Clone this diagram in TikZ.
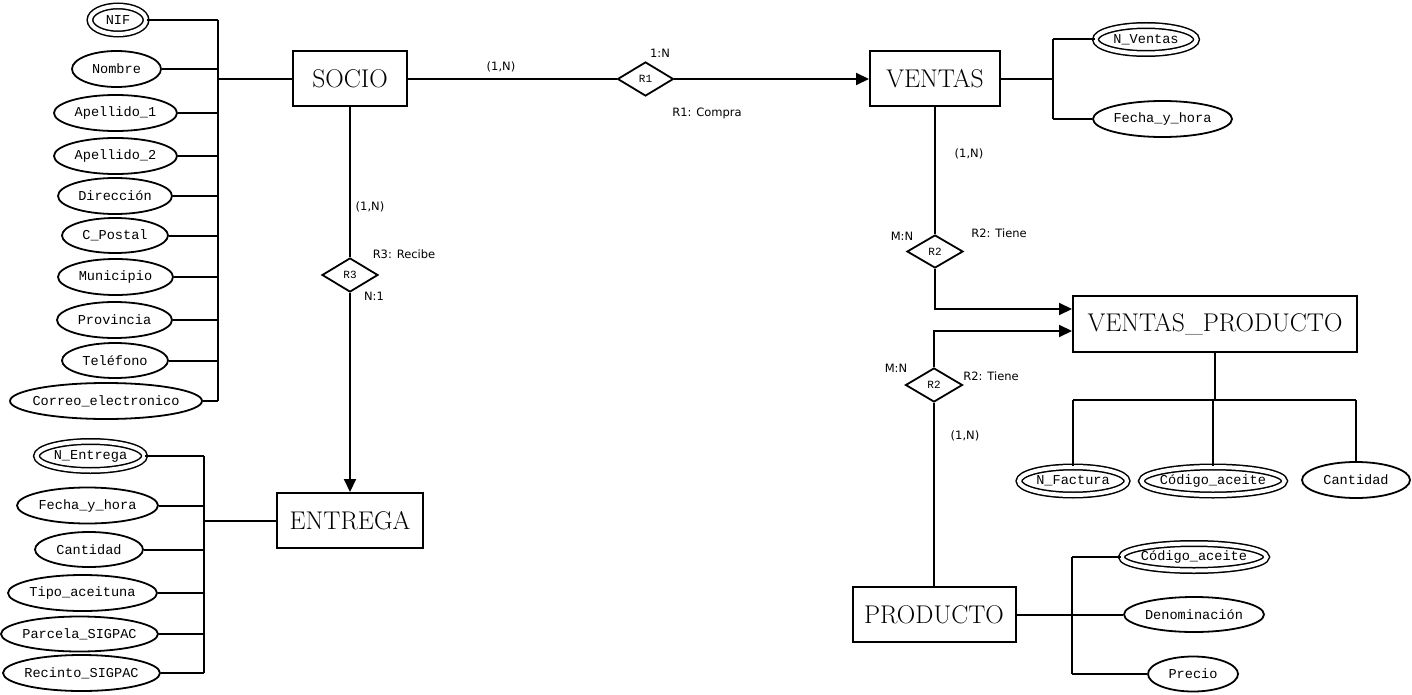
\documentclass[tikz,border=0pt]{standalone}
\usepackage{fontspec}
\newfontfamily\mono{Liberation Mono}
\newfontfamily\lab{DejaVu Sans}
\usetikzlibrary{shapes.geometric,arrows.meta}
\tikzset{
  ent/.style={draw, line width=2pt, inner sep=0pt, font=\fontsize{25.6}{26}\selectfont},
  attr/.style={draw, ellipse, line width=1.8pt, inner ysep=0pt, inner xsep=-14pt, font=\mono\fontsize{13.6}{14}\selectfont},
  keyattr/.style={attr, double, double distance=4pt, line width=1.5pt},
  rel/.style={draw, diamond, line width=1.8pt, inner sep=0pt, font=\mono\fontsize{11}{11}\selectfont},
  lbl/.style={font=\lab\fontsize{11.5}{12}\selectfont, inner sep=0pt},
  ln/.style={line width=2pt},
  arr/.style={ln, -{Triangle[length=13pt,width=12pt]}}
}
\begin{document}
\begin{tikzpicture}[x=1pt,y=-1pt]
\useasboundingbox (0,0) rectangle (1412,695);
% entities
\node[ent, minimum width=114, minimum height=55] (socio) at (350,79) {SOCIO};
\node[ent, minimum width=130, minimum height=55] (ventas) at (935,79) {VENTAS};
\node[ent, minimum width=284, minimum height=56] (vp) at (1215,324) {VENTAS\_PRODUCTO};
\node[ent, minimum width=146, minimum height=55] (entrega) at (350,520.5) {ENTREGA};
\node[ent, minimum width=163, minimum height=55] (producto) at (934,614.5) {PRODUCTO};
% relationships
\node[rel, minimum width=56, minimum height=34] (r1) at (645.5,79) {R1};
\node[rel, minimum width=56, minimum height=34] (r3) at (350,275) {R3};
\node[rel, minimum width=56, minimum height=33] (r2a) at (935,251.5) {R2};
\node[rel, minimum width=57, minimum height=34] (r2b) at (934,385) {R2};
% SOCIO attributes
\node[keyattr, minimum width=56, minimum height=28] (nif) at (118,20) {NIF};
\node[attr, minimum width=89, minimum height=36] (nom) at (116.5,69) {Nombre};
\node[attr, minimum width=123, minimum height=36] (ap1) at (115.5,113) {Apellido\_1};
\node[attr, minimum width=123, minimum height=36] (ap2) at (115.5,156) {Apellido\_2};
\node[attr, minimum width=114, minimum height=36] (dir) at (115,196) {Dirección};
\node[attr, minimum width=106, minimum height=35] (cp) at (115,235.5) {C\_Postal};
\node[attr, minimum width=115, minimum height=36] (mun) at (115.5,277) {Municipio};
\node[attr, minimum width=115, minimum height=36] (prov) at (114.5,320) {Provincia};
\node[attr, minimum width=106, minimum height=35] (tel) at (115,360.5) {Teléfono};
\node[attr, minimum width=192, minimum height=36] (corr) at (106,401) {Correo\_electronico};
\coordinate (sbus) at (218,79);
\foreach \n in {nif,nom,ap1,ap2,dir,cp,mun,prov,tel,corr}
  \draw[ln] (\n.east) -- (\n.east -| sbus);
\draw[ln] (nif.east -| sbus) -- (corr.east -| sbus);
\draw[ln] (sbus) -- (socio.west);
% ENTREGA attributes
\node[keyattr, minimum width=108, minimum height=29] (nent) at (90.5,456) {N\_Entrega};
\node[attr, minimum width=141, minimum height=36] (efh) at (87.5,505.5) {Fecha\_y\_hora};
\node[attr, minimum width=108, minimum height=35] (ecant) at (89,549.5) {Cantidad};
\node[attr, minimum width=149, minimum height=36] (tipo) at (82.5,593) {Tipo\_aceituna};
\node[attr, minimum width=157, minimum height=35] (parc) at (79.5,634) {Parcela\_SIGPAC};
\node[attr, minimum width=157, minimum height=36] (rec) at (81.5,673) {Recinto\_SIGPAC};
\coordinate (ebus) at (204,520.5);
\foreach \n in {nent,efh,ecant,tipo,parc,rec}
  \draw[ln] (\n.east) -- (\n.east -| ebus);
\draw[ln] (nent.east -| ebus) -- (rec.east -| ebus);
\draw[ln] (ebus) -- (entrega.west);
% VENTAS attributes
\node[keyattr, minimum width=101, minimum height=28] (nv) at (1146,39.5) {N\_Ventas};
\node[attr, minimum width=139, minimum height=36] (vfh) at (1162.5,119) {Fecha\_y\_hora};
\coordinate (vbus) at (1053,79);
\foreach \n in {nv,vfh}
  \draw[ln] (\n.west) -- (\n.west -| vbus);
\draw[ln] (nv.west -| vbus) -- (vfh.west -| vbus);
\draw[ln] (ventas.east) -- (vbus);
% VENTAS_PRODUCTO attributes
\node[keyattr, minimum width=108, minimum height=28] (nfac) at (1073,481) {N\_Factura};
\node[keyattr, minimum width=143, minimum height=28] (cod1) at (1213,481) {Código\_aceite};
\node[attr, minimum width=108, minimum height=36] (vcant) at (1356,480) {Cantidad};
\coordinate (vpbus) at (1215,400);
\draw[ln] (vp.south) -- (vpbus);
\draw[ln] (nfac.north |- vpbus) -- (vcant.north |- vpbus);
\foreach \n in {nfac,cod1,vcant}
  \draw[ln] (\n.north |- vpbus) -- (\n.north);
% PRODUCTO attributes
\node[keyattr, minimum width=145, minimum height=27] (cod2) at (1194,557) {Código\_aceite};
\node[attr, minimum width=140, minimum height=35] (den) at (1194,614.5) {Denominación};
\node[attr, minimum width=90, minimum height=35] (pre) at (1193,674) {Precio};
\coordinate (pbus) at (1072,614.5);
\foreach \n in {cod2,den,pre}
  \draw[ln] (\n.west) -- (\n.west -| pbus);
\draw[ln] (cod2.west -| pbus) -- (pre.west -| pbus);
\draw[ln] (producto.east) -- (pbus);
% relationship connectors
\draw[ln] (socio.east) -- (r1.west);
\draw[arr] (r1.east) -- (ventas.west);
\draw[ln] (socio.south) -- (r3.north);
\draw[arr] (r3.south) -- (entrega.north);
\draw[ln] (ventas.south) -- (r2a.north);
\coordinate (ja) at (935,309);
\draw[arr] (r2a.south) -- (ja) -- (ja -| vp.west);
\coordinate (jb) at (934,331);
\draw[arr] (r2b.north) -- (jb) -- (jb -| vp.west);
\draw[ln] (r2b.south) -- (producto.north);
% labels
\node[lbl] (l1) at (501,67) {(1,N)};
\node[lbl] (l2) at (660,53) {1:N};
\node[lbl] (l3) at (707,113) {R1: Compra};
\node[lbl] (l4) at (370,207) {(1,N)};
\node[lbl] (l5) at (404,254) {R3: Recibe};
\node[lbl] (l6) at (374,296) {N:1};
\node[lbl] (l7) at (969,154) {(1,N)};
\node[lbl] (l8) at (902,236) {M:N};
\node[lbl] (l9) at (999,233) {R2: Tiene};
\node[lbl] (l10) at (896,368) {M:N};
\node[lbl] (l11) at (991,376) {R2: Tiene};
\node[lbl] (l12) at (965,436) {(1,N)};
\end{tikzpicture}
\end{document}
